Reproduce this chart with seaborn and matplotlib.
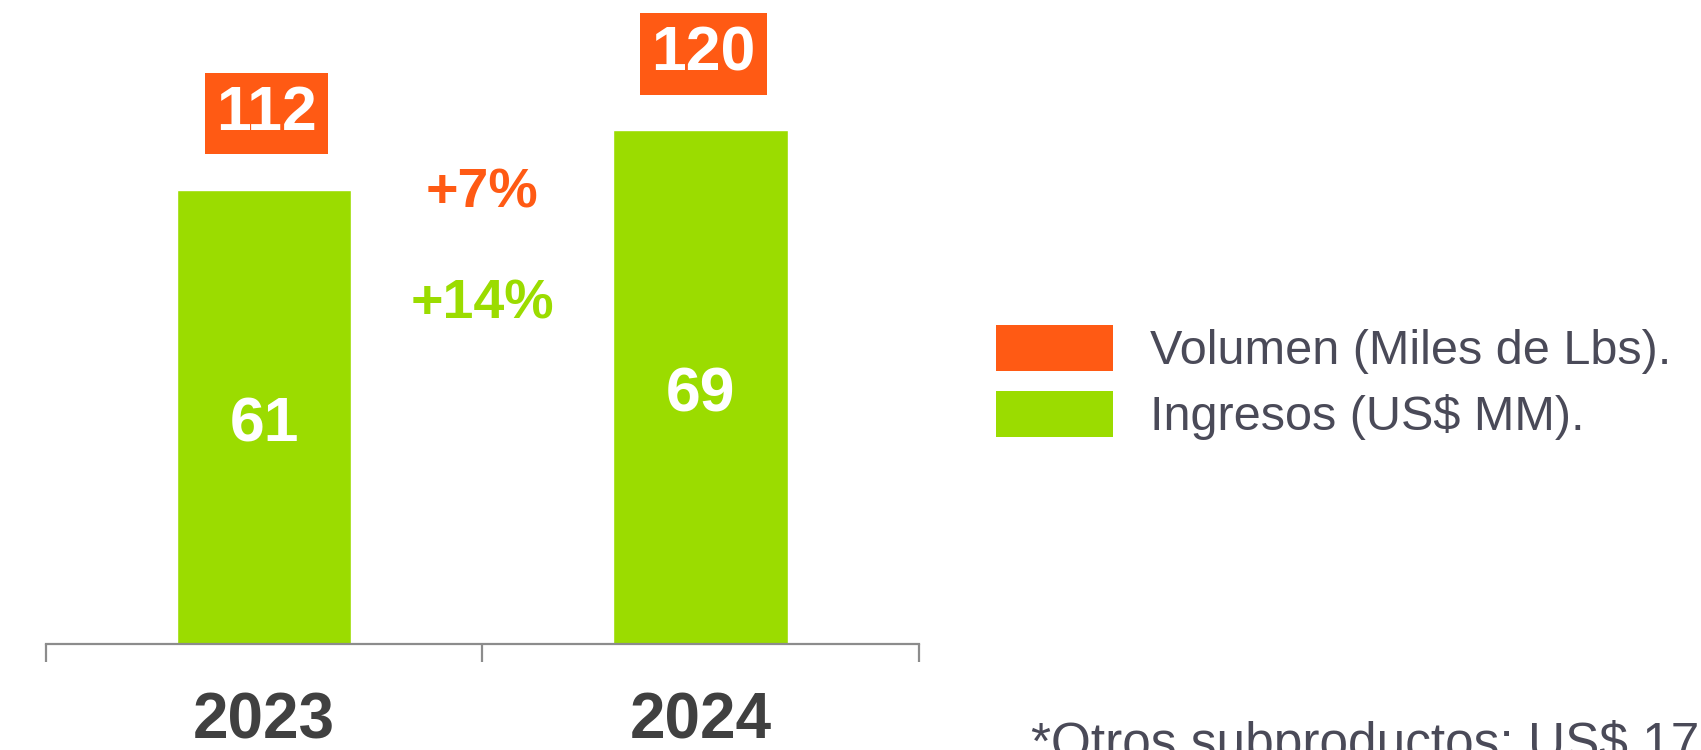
import matplotlib
matplotlib.use("Agg")
import matplotlib.pyplot as plt
from matplotlib.patches import Patch
import seaborn as sns
import pandas as pd

years = ["2023", "2024"]
ingresos = [61, 69]          # Ingresos (US$ MM)
volumen = [112, 120]         # Volumen (Miles de Lbs)
growth_vol = "+7%"
growth_ing = "+14%"
legend_labels = ["Volumen (Miles de Lbs).", "Ingresos (US$ MM)."]
footnote = "*Otros subproductos: US$ 17 MM"

ORANGE = "#FF5A14"
GREEN = "#9BDC00"
TXT = "#4A4A58"
YEARC = "#404040"
AXC = "#8C8C8C"

sns.set_theme(style="white")
FAM = ["Liberation Sans", "Arial", "DejaVu Sans"]
plt.rcParams["font.family"] = FAM

df = pd.DataFrame({"year": years, "ingresos": ingresos})

fig = plt.figure(figsize=(17.01, 7.5), dpi=100)
ax = fig.add_axes([0.027, 0.1413, 0.513, 0.8587])
sns.barplot(data=df, x="year", y="ingresos", color=GREEN, width=0.4,
            saturation=1, ax=ax)
ax.set_xlim(-0.5, 1.5)
ax.set_ylim(0, 86.5)

for s in ["top", "left", "right"]:
    ax.spines[s].set_visible(False)
ax.spines["bottom"].set_color(AXC)
ax.spines["bottom"].set_linewidth(1.6)
ax.set_yticks([])
ax.set_xlabel("")
ax.set_ylabel("")
ax.set_xticks([0, 1])
ax.set_xticklabels(years, fontsize=46, fontweight="bold", color=YEARC)
ax.tick_params(axis="x", which="major", length=0, pad=34)
ax.set_xticks([-0.5, 0.5, 1.5], minor=True)
ax.tick_params(axis="x", which="minor", length=13, width=1.6, color=AXC,
               direction="out", bottom=True)

# inside labels (centre of each bar)
for i, v in enumerate(ingresos):
    ax.annotate(str(v), xy=(i, v / 2), xytext=(0, -6), textcoords="offset points",
                ha="center", va="center", fontsize=45, fontweight="bold",
                color="white")

# volumen labels in orange boxes above bars
for i, (ing, vol) in enumerate(zip(ingresos, volumen)):
    ax.annotate(str(vol), xy=(i, ing), xytext=(2, 55), textcoords="offset points",
                ha="center", va="center", fontsize=45, fontweight="bold",
                color="white",
                bbox=dict(boxstyle="square,pad=0.18", fc=ORANGE, ec="none"))

# growth labels
ax.text(0.5, 0.70, growth_vol, transform=ax.transAxes, ha="center", va="center",
        fontsize=40, fontweight="bold", color=ORANGE)
ax.text(0.5, 0.527, growth_ing, transform=ax.transAxes, ha="center", va="center",
        fontsize=40, fontweight="bold", color=GREEN)

handles = [Patch(facecolor=ORANGE, edgecolor="none"),
           Patch(facecolor=GREEN, edgecolor="none")]
leg = fig.legend(handles, legend_labels, loc="center left",
                 bbox_to_anchor=(0.5855, 0.49), frameon=False, fontsize=35,
                 handlelength=2.4, handleheight=1.1, handletextpad=0.76,
                 labelspacing=0.33, borderaxespad=0, borderpad=0)
for t in leg.get_texts():
    t.set_color(TXT)

fig.text(0.606, -0.012, footnote, fontsize=37, color=TXT, ha="left", va="baseline")

fig.savefig("out.png", dpi=100)
